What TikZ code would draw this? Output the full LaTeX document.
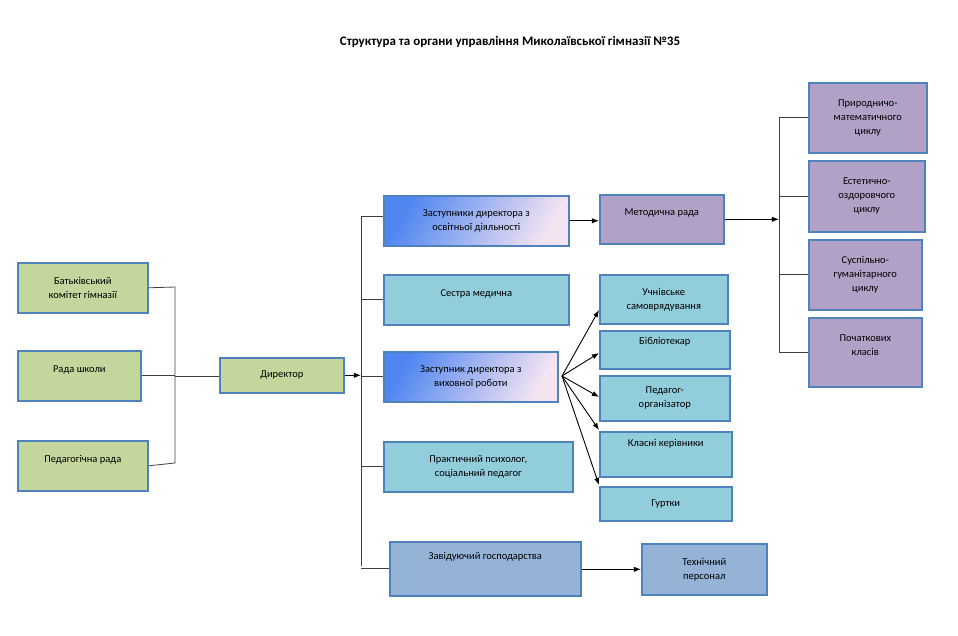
\documentclass[tikz,border=0pt]{standalone}
\usepackage{fontspec}
\setmainfont{Carlito}
\usetikzlibrary{arrows.meta,positioning}
\definecolor{edgeblue}{HTML}{4F81BD}
\definecolor{greenbox}{HTML}{C3D69B}
\definecolor{tealbox}{HTML}{92CDDC}
\definecolor{purplebox}{HTML}{B2A1C7}
\definecolor{steelbox}{HTML}{95B3D7}
\definecolor{gradblue}{HTML}{4F86F0}
\definecolor{gradpink}{HTML}{F4E4F2}

\begin{document}
\begin{tikzpicture}[x=1pt,y=-1pt,
      box/.style={rectangle,draw=edgeblue,line width=1.6pt,anchor=north west,
                  inner sep=2pt,align=center,font=\fontsize{10.5}{14}\selectfont,
                  minimum width=#1},
      green/.style={box=130pt,fill=greenbox,minimum height=50pt},
      teal/.style={fill=tealbox},
      purple/.style={fill=purplebox},
      grad/.style={shading=axis,left color=gradblue,right color=gradpink,shading angle=60},
      link/.style={draw=black!75,line width=0.8pt},
      arrow/.style={-Latex,line width=0.9pt,draw=black},
      >=Latex
    ]
    \useasboundingbox (0,0) rectangle (958,636);

    % Title
    \node[font=\bfseries\fontsize{13}{15}\selectfont] (title) at (510,42)
      {Структура та органи управління Миколаївської гімназії №35};

    % Left councils
    \node[green] (BK) at (17,262) {Батьківський\\комітет гімназії};
    \node[green,minimum width=123pt] (RS) at (17,350) {Рада школи\\\mbox{}};
    \node[green] (PR) at (17,440) {Педагогічна рада\\\mbox{}};
    \node[box=124pt,fill=greenbox,minimum height=35pt] (D) at (219,357) {Директор};

    \coordinate (lb1) at (175,287);
    \coordinate (lb2) at (175,463);
    \coordinate (lbm) at (175,376);
    \draw[link] (BK.east) -- (lb1) -- (lb2) -- (PR.east);
    \draw[link] (RS.east) -- (RS.east -| lbm);
    \draw[link] (lbm) -- (D.west |- lbm);

    % Deputies and staff
    \node[box=185pt,grad,minimum height=50pt] (Z1) at (383,195)
      {Заступники директора з\\освітньої діяльності};
    \node[box=185pt,teal,minimum height=50pt] (SM) at (383,274) {Сестра медична\\\mbox{}};
    \node[box=174pt,grad,minimum height=50pt] (Z2) at (383,351)
      {Заступник директора з\\виховної роботи};
    \node[box=189pt,teal,minimum height=50pt] (PP) at (383,441)
      {Практичний психолог,\\соціальний педагог};
    \node[box=191pt,fill=steelbox,minimum height=54pt] (ZG) at (389,541)
      {Завідуючий господарства\\\mbox{}\\[-2pt]};

    \coordinate (t1) at (361,216);
    \coordinate (t2) at (361,566);
    \draw[arrow] (D.east) -- (t1 |- D.east);
    \draw[link] (t1) -- (t2);
    \draw[link] (t1) -- (t1 -| Z1.west);
    \foreach \n in {SM,Z2,PP,ZG}
      \draw[link] (\n.west -| t1) -- (\n.west);

    % Methodical council
    \node[box=124pt,purple,minimum height=49pt] (MR) at (599,194) {Методична рада\\\mbox{}};
    \draw[arrow] (Z1.east) -- (MR.west |- Z1.east);

    \node[box=118pt,purple,minimum height=70pt] (C1) at (808,82) {Природничо-\\математичного\\циклу};
    \node[box=116pt,purple,minimum height=71pt] (C2) at (808,160) {Естетично-\\оздоровчого\\циклу};
    \node[box=113pt,purple,minimum height=70pt] (C3) at (808,239) {Суспільно-\\гуманітарного\\циклу};
    \node[box=113pt,purple,minimum height=69pt] (C4) at (808,317) {Початкових\\класів\\\mbox{}};

    \coordinate (rb1) at (779,117);
    \coordinate (rb2) at (779,352);
    \draw[arrow] (MR.east) -- (MR.east -| rb1);
    \draw[link] (C1.west |- rb1) -- (rb1) -- (rb2) -- (C4.west |- rb2);
    \draw[link] (C2.west) -- (C2.west -| rb1);
    \draw[link] (C3.west) -- (C3.west -| rb1);

    % Educational staff
    \node[box=128pt,teal,minimum height=49pt] (US) at (599,274) {Учнівське\\самоврядування};
    \node[box=130pt,teal,minimum height=38pt] (BB) at (599,330) {Бібліотекар\\[4pt]};
    \node[box=130pt,teal,minimum height=45pt] (PO) at (599,375) {Педагог-\\організатор};
    \node[box=132pt,teal,minimum height=45pt] (KK) at (599,431) {Класні керівники\\[8pt]};
    \node[box=132pt,teal,minimum height=34pt] (HT) at (599,486) {Гуртки};

    \coordinate (fan) at (562,376);
    \draw[arrow] (fan) -- (599,310);
    \draw[arrow] (fan) -- (599,353);
    \draw[arrow] (fan) -- (599,397);
    \draw[arrow] (fan) -- (599,430);
    \draw[arrow] (fan) -- (599,485);

    % Technical staff
    \node[box=125pt,fill=steelbox,minimum height=51pt] (TP) at (641,543) {Технічний\\персонал};
    \draw[arrow] (ZG.east |- TP.west) -- (TP.west);

  \end{tikzpicture}
\end{document}
